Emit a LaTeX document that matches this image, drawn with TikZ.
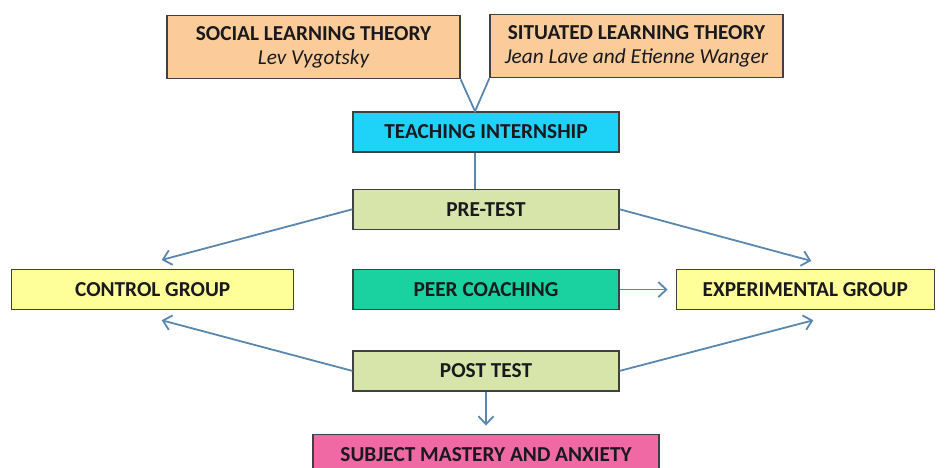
\documentclass[tikz,border=0pt]{standalone}
\usepackage{fontspec}
\setmainfont{Carlito}
\usetikzlibrary{positioning}
\usetikzlibrary{arrows.meta}
\definecolor{peach}{RGB}{251,204,153}
\definecolor{cyanbox}{RGB}{30,210,248}
\definecolor{testgreen}{RGB}{215,228,170}
\definecolor{coachgreen}{RGB}{25,210,160}
\definecolor{groupyellow}{RGB}{255,255,153}
\definecolor{resultpink}{RGB}{240,105,165}
\definecolor{flowblue}{RGB}{90,135,175}
\definecolor{edgegray}{RGB}{64,64,64}
\definecolor{ink}{RGB}{25,25,30}
\tikzset{node distance=36pt, % Gap between two boxes of the middle column
      block/.style={ % Sets the properties for each box
      draw=edgegray, line width=1.3pt,
      minimum width=266pt, minimum height=40pt, inner sep=0pt,
      font=\fontsize{21.3}{24}\selectfont\bfseries, text=ink},
      plain/.style={draw=flowblue, line width=1.8pt}, % Lines without a head
      flow/.style={ % Sets the properties for each arrow
      plain,
      -{Straight Barb[length=8pt,width=15pt]}}}
\begin{document}
\begin{tikzpicture}[x=1pt,y=1pt]
      \useasboundingbox (0,0) rectangle (947,468);
      \node[block, fill=cyanbox] (teach) at (486,336) {TEACHING INTERNSHIP};
      \node[block, fill=testgreen, below=of teach] (pre) {PRE-TEST};
      \node[block, fill=coachgreen, below=39pt of pre] (peer) {PEER COACHING};
      \node[block, fill=testgreen, below=40pt of peer] (post) {POST TEST};
      \node[block, fill=resultpink, minimum width=346pt, below=42pt of post] (subj) {SUBJECT MASTERY AND ANXIETY};
      \node[block, fill=groupyellow, minimum width=282pt, left=58pt of peer] (ctrl) {CONTROL GROUP};
      \node[block, fill=groupyellow, minimum width=258pt, right=56pt of peer] (exp) {EXPERIMENTAL GROUP};
      \node[block, fill=peach, minimum width=293pt, minimum height=63pt, align=center,
            above=32pt of teach, xshift=-172.5pt] (social) {SOCIAL LEARNING THEORY\\{\mdseries\itshape Lev Vygotsky}};
      \node[block, fill=peach, minimum width=293pt, minimum height=63pt, align=center,
            above=33pt of teach, xshift=150.5pt] (situated) {SITUATED LEARNING THEORY\\{\mdseries\itshape Jean Lave and Etienne Wanger}};
      % the two theories meet above the internship
      \coordinate (join) at ([xshift=-11pt]teach.north);
      \draw[plain] (social.south east) -- (join) -- (situated.south west);
      \draw[plain] ([xshift=-11pt]teach.south) -- ([xshift=-11pt]pre.north);
      \draw[flow] (pre.west) -- ([shift={(9pt,9pt)}]ctrl.north);
      \draw[flow] (pre.east) -- ([shift={(6pt,8pt)}]exp.north);
      \draw[flow] (peer.east) -- ([xshift=-8pt]exp.west);
      \draw[flow] (post.west) -- ([shift={(9pt,-10pt)}]ctrl.south);
      \draw[flow] (post.east) -- ([shift={(8pt,-10pt)}]exp.south);
      \draw[flow] (post.south) -- ([yshift=8pt]subj.north);
\end{tikzpicture}
\end{document}
